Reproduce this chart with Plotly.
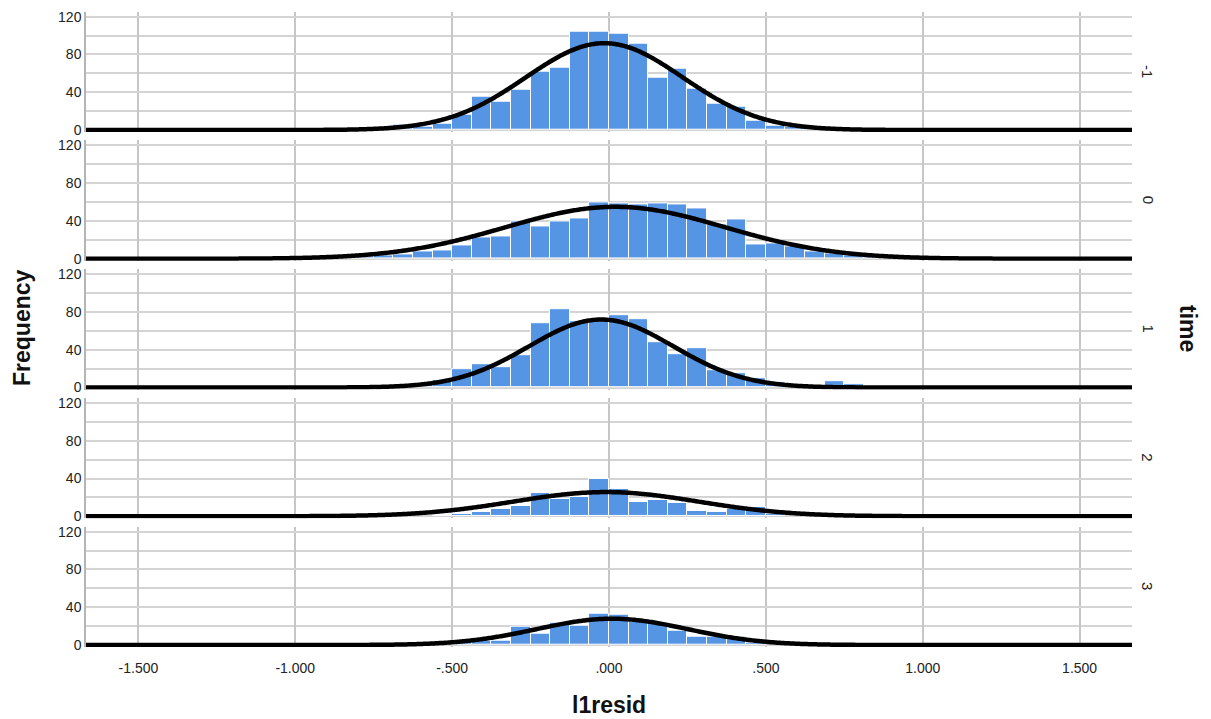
import numpy as np
import plotly.graph_objects as go

# ---------------- data ----------------
bin_width = 0.0625
panel_labels = ["-1", "0", "1", "2", "3"]

# first bin index (bin k spans [k*bw, (k+1)*bw)) and counts per panel
start_m1 = -12
counts_m1 = [2, 6, 4, 7, 16, 35, 30, 43, 62, 66, 104, 104, 102, 91, 55, 65, 44, 28, 25, 10, 5, 3, 1]
start_0 = -14
counts_0 = [4, 2, 3, 5, 8, 9, 14, 23, 24, 39, 34, 40, 43, 60, 59, 57, 59, 57, 53, 36, 42, 15, 16, 13, 8, 6, 4, 2]
start_1 = -11
counts_1 = [2, 4, 8, 19, 25, 21, 34, 68, 83, 70, 71, 77, 72, 48, 35, 42, 18, 15, 10, 6, 2, 1, 7, 3]
start_2 = -9
counts_2 = [1, 2, 5, 8, 11, 25, 18, 20, 40, 29, 15, 17, 14, 6, 5, 8, 10, 2]
start_3 = -8
counts_3 = [2, 5, 5, 19, 12, 24, 20, 33, 32, 25, 23, 15, 9, 9, 9, 2]

# normal-curve parameters per panel (mean, sd, n)
curve_mean = [-0.015, 0.02, -0.025, -0.01, 0.01]
curve_sd = [0.25, 0.35, 0.23, 0.295, 0.24]
curve_n = [922, 772, 664, 303, 268]

x_tickvals = [-1.5, -1.0, -0.5, 0.0, 0.5, 1.0, 1.5]
x_ticktext = ["-1.500", "-1.000", "-.500", ".000", ".500", "1.000", "1.500"]
y_tickvals = [0, 40, 80, 120]

starts = [start_m1, start_0, start_1, start_2, start_3]
counts = [counts_m1, counts_0, counts_1, counts_2, counts_3]

# ---------------- layout geometry ----------------
W, H = 1211, 719
L, R = 86, 1132
XMIN, XMAX = -1.667, 1.667
YMIN, YMAX = -2.1, 125.3
BAR = "#5694E4"
GRID = "#d4d4d4"
FONT = "Liberation Sans, Arial, sans-serif"

fig = go.Figure()
layout = {}
xs = np.linspace(XMIN, XMAX, 800)
for i in range(5):
    ax = "" if i == 0 else str(i + 1)
    xa, ya = "x" + ax, "y" + ax
    centers = [(starts[i] + j + 0.5) * bin_width for j in range(len(counts[i]))]
    fig.add_trace(go.Bar(x=centers, y=counts[i], width=bin_width, xaxis=xa, yaxis=ya,
                         marker=dict(color=BAR, line=dict(color="white", width=1)),
                         showlegend=False, hoverinfo="x+y"))
    m, s, n = curve_mean[i], curve_sd[i], curve_n[i]
    ys = n * bin_width / (s * np.sqrt(2 * np.pi)) * np.exp(-0.5 * ((xs - m) / s) ** 2)
    fig.add_trace(go.Scatter(x=xs, y=ys, mode="lines", xaxis=xa, yaxis=ya,
                             line=dict(color="black", width=4.5, simplify=False),
                             showlegend=False, hoverinfo="skip"))
    base = 130 + i * 128.75
    top_px, bot_px = base - 118.3, base + 2
    layout["xaxis" + ax] = dict(
        domain=[L / W, R / W], range=[XMIN, XMAX], anchor=ya, automargin=False,
        tickvals=x_tickvals, ticktext=x_ticktext, showticklabels=(i == 4),
        showgrid=True, gridcolor="#c6c6c6", gridwidth=1.5, zeroline=False,
        showline=False, ticks="outside" if i == 4 else "", ticklen=8, tickcolor="rgba(0,0,0,0)",
        tickfont=dict(family=FONT, size=14, color="#222"),
        matches="x" if i > 0 else None,
    )
    layout["yaxis" + ax] = dict(
        domain=[1 - bot_px / H, 1 - top_px / H], range=[YMIN, YMAX], anchor=xa, automargin=False,
        tickvals=y_tickvals, showgrid=True, gridcolor=GRID, gridwidth=1.5,
        minor=dict(dtick=20, tick0=0, showgrid=True, gridcolor=GRID, gridwidth=1.5),
        zeroline=False, showline=True, linecolor="#b5b5b5", linewidth=1.5,
        ticks="", tickfont=dict(family=FONT, size=14, color="#222"),
    )
    fig.add_annotation(xref="paper", yref="paper", x=(R + 16) / W, y=1 - (base - 59) / H,
                       text=panel_labels[i], textangle=90, showarrow=False,
                       font=dict(family=FONT, size=15, color="#222"),
                       xanchor="center", yanchor="middle")

fig.add_annotation(xref="paper", yref="paper", x=22 / W, y=1 - 328 / H, text="<b>Frequency</b>",
                   textangle=-90, showarrow=False, font=dict(family=FONT, size=23, color="#111"),
                   xanchor="center", yanchor="middle")
fig.add_annotation(xref="paper", yref="paper", x=1188 / W, y=1 - 328 / H, text="<b>time</b>",
                   textangle=90, showarrow=False, font=dict(family=FONT, size=23, color="#111"),
                   xanchor="center", yanchor="middle")
fig.add_annotation(xref="paper", yref="paper", x=609 / W, y=1 - 705 / H, text="<b>l1resid</b>",
                   showarrow=False, font=dict(family=FONT, size=23, color="#111"),
                   xanchor="center", yanchor="middle")

fig.update_layout(
    width=W, height=H, margin=dict(l=0, r=0, t=0, b=0, autoexpand=False),
    paper_bgcolor="white", plot_bgcolor="white", bargap=0, barmode="overlay",
    **layout,
)
fig.write_html("out.html")
